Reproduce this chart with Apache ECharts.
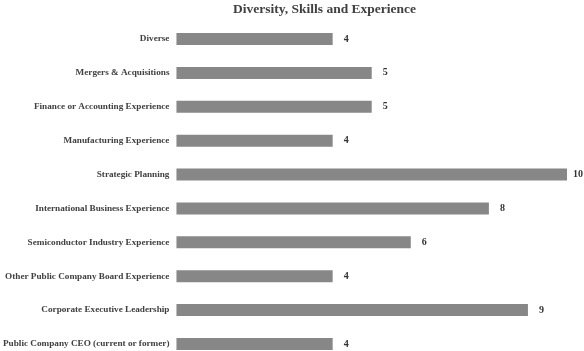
<!DOCTYPE html>
<html>
<head>
<meta charset="utf-8">
<script src="https://cdn.jsdelivr.net/npm/echarts@6/dist/echarts.min.js"></script>
<style>
  html, body { margin: 0; padding: 0; background: #fff; }
  #main { width: 584px; height: 351px; }
</style>
</head>
<body>
<div id="main"></div>
<script>
// categories top to bottom
var categories = [
  'Diverse',
  'Mergers & Acquisitions',
  'Finance or Accounting Experience',
  'Manufacturing Experience',
  'Strategic Planning',
  'International Business Experience',
  'Semiconductor Industry Experience',
  'Other Public Company Board Experience',
  'Corporate Executive Leadership',
  'Public Company CEO (current or former)'
];
var counts = [4, 5, 5, 4, 10, 8, 6, 4, 9, 4];

var chartDom = document.getElementById('main');
var myChart = echarts.init(chartDom);
var option;

// two digit labels sit a bit closer to the bar
var barData = counts.map(function (v) {
  return v >= 10 ? { value: v, label: { distance: 6 } } : v;
});

option = {
  animation: false,
  title: {
    text: 'Diversity, Skills and Experience',
    left: 228,
    top: -2,
    textStyle: {
      fontFamily: 'Liberation Serif',
      fontWeight: 'bold',
      fontSize: 13.5,
      color: '#404040'
    }
  },
  grid: {
    left: 176,
    right: 17,
    top: 39,
    bottom: 7
  },
  xAxis: {
    type: 'value',
    min: 0,
    max: 10,
    show: false
  },
  yAxis: {
    type: 'category',
    data: categories,
    inverse: true,
    boundaryGap: false,
    axisLine: { show: false },
    axisTick: { show: false },
    splitLine: { show: false },
    axisLabel: {
      margin: 7,
      fontFamily: 'Liberation Serif',
      fontWeight: 'bold',
      fontSize: 9.2,
      color: '#404040'
    }
  },
  series: [
    {
      type: 'bar',
      data: barData,
      barWidth: 12,
      itemStyle: { color: '#878787' },
      label: {
        show: true,
        position: 'right',
        distance: 11,
        fontFamily: 'Liberation Serif',
        fontWeight: 'bold',
        fontSize: 10,
        color: '#333'
      }
    }
  ]
};

option && myChart.setOption(option);
</script>
</body>
</html>
